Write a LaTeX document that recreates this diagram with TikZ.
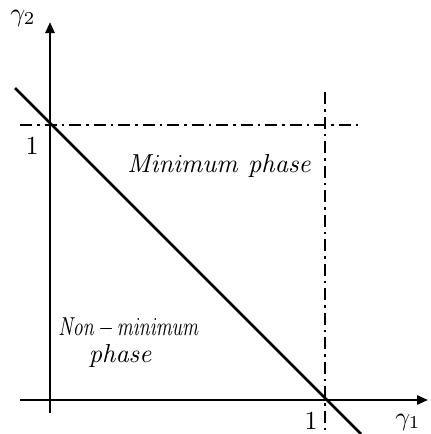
\documentclass[tikz,border=0pt]{standalone}
\usepackage{graphicx}
\usetikzlibrary{arrows.meta}
\newcommand{\bigtxt}[1]{\scalebox{2.6}{#1}}
\begin{document}
\begin{tikzpicture}[x=1pt,y=-1pt,
  axis/.style={line width=2.6pt,-{Triangle[length=11pt,width=9pt]}},
  dline/.style={line width=2.4pt,dash pattern=on 12pt off 5pt on 2.5pt off 5pt},
  lbl/.style={inner sep=0pt}]
\useasboundingbox (0,0) rectangle (431,434);
\coordinate (o) at (50,400);
\coordinate (ytop) at (50,22);
\coordinate (ybot) at (50,413);
\coordinate (xl) at (20,400);
\coordinate (xr) at (428,400);
\coordinate (da) at (15,88);
\coordinate (db) at (361,434);
\coordinate (hl) at (20,125);
\coordinate (hr) at (358,125);
\coordinate (vt) at (325,92);
\coordinate (vb) at (325,434);
\draw[dline] (hl) -- (hr);
\draw[dline] (vt) -- (vb);
\draw[axis] (ybot) -- (ytop);
\draw[axis] (xl) -- (xr);
\draw[line width=2.6pt] (da) -- (db);
\node[lbl] (g2) at (23,18) {\bigtxt{$\gamma_2$}};
\node[lbl] (g1) at (408,422) {\bigtxt{$\gamma_1$}};
\node[lbl] (one2) at (32,146) {\bigtxt{$1$}};
\node[lbl] (one1) at (311,421) {\bigtxt{$1$}};
\node[lbl] (mp) at (220,166) {\bigtxt{$\mathit{Minimum\ phase}$}};
\node[lbl] (nm) at (129,328) {\scalebox{1.95}[2.6]{$\mathit{Non}\,{-}\,\mathit{minimum}$}};
\node[lbl] (ph) at (121,356) {\bigtxt{$\mathit{phase}$}};
\end{tikzpicture}
\end{document}
